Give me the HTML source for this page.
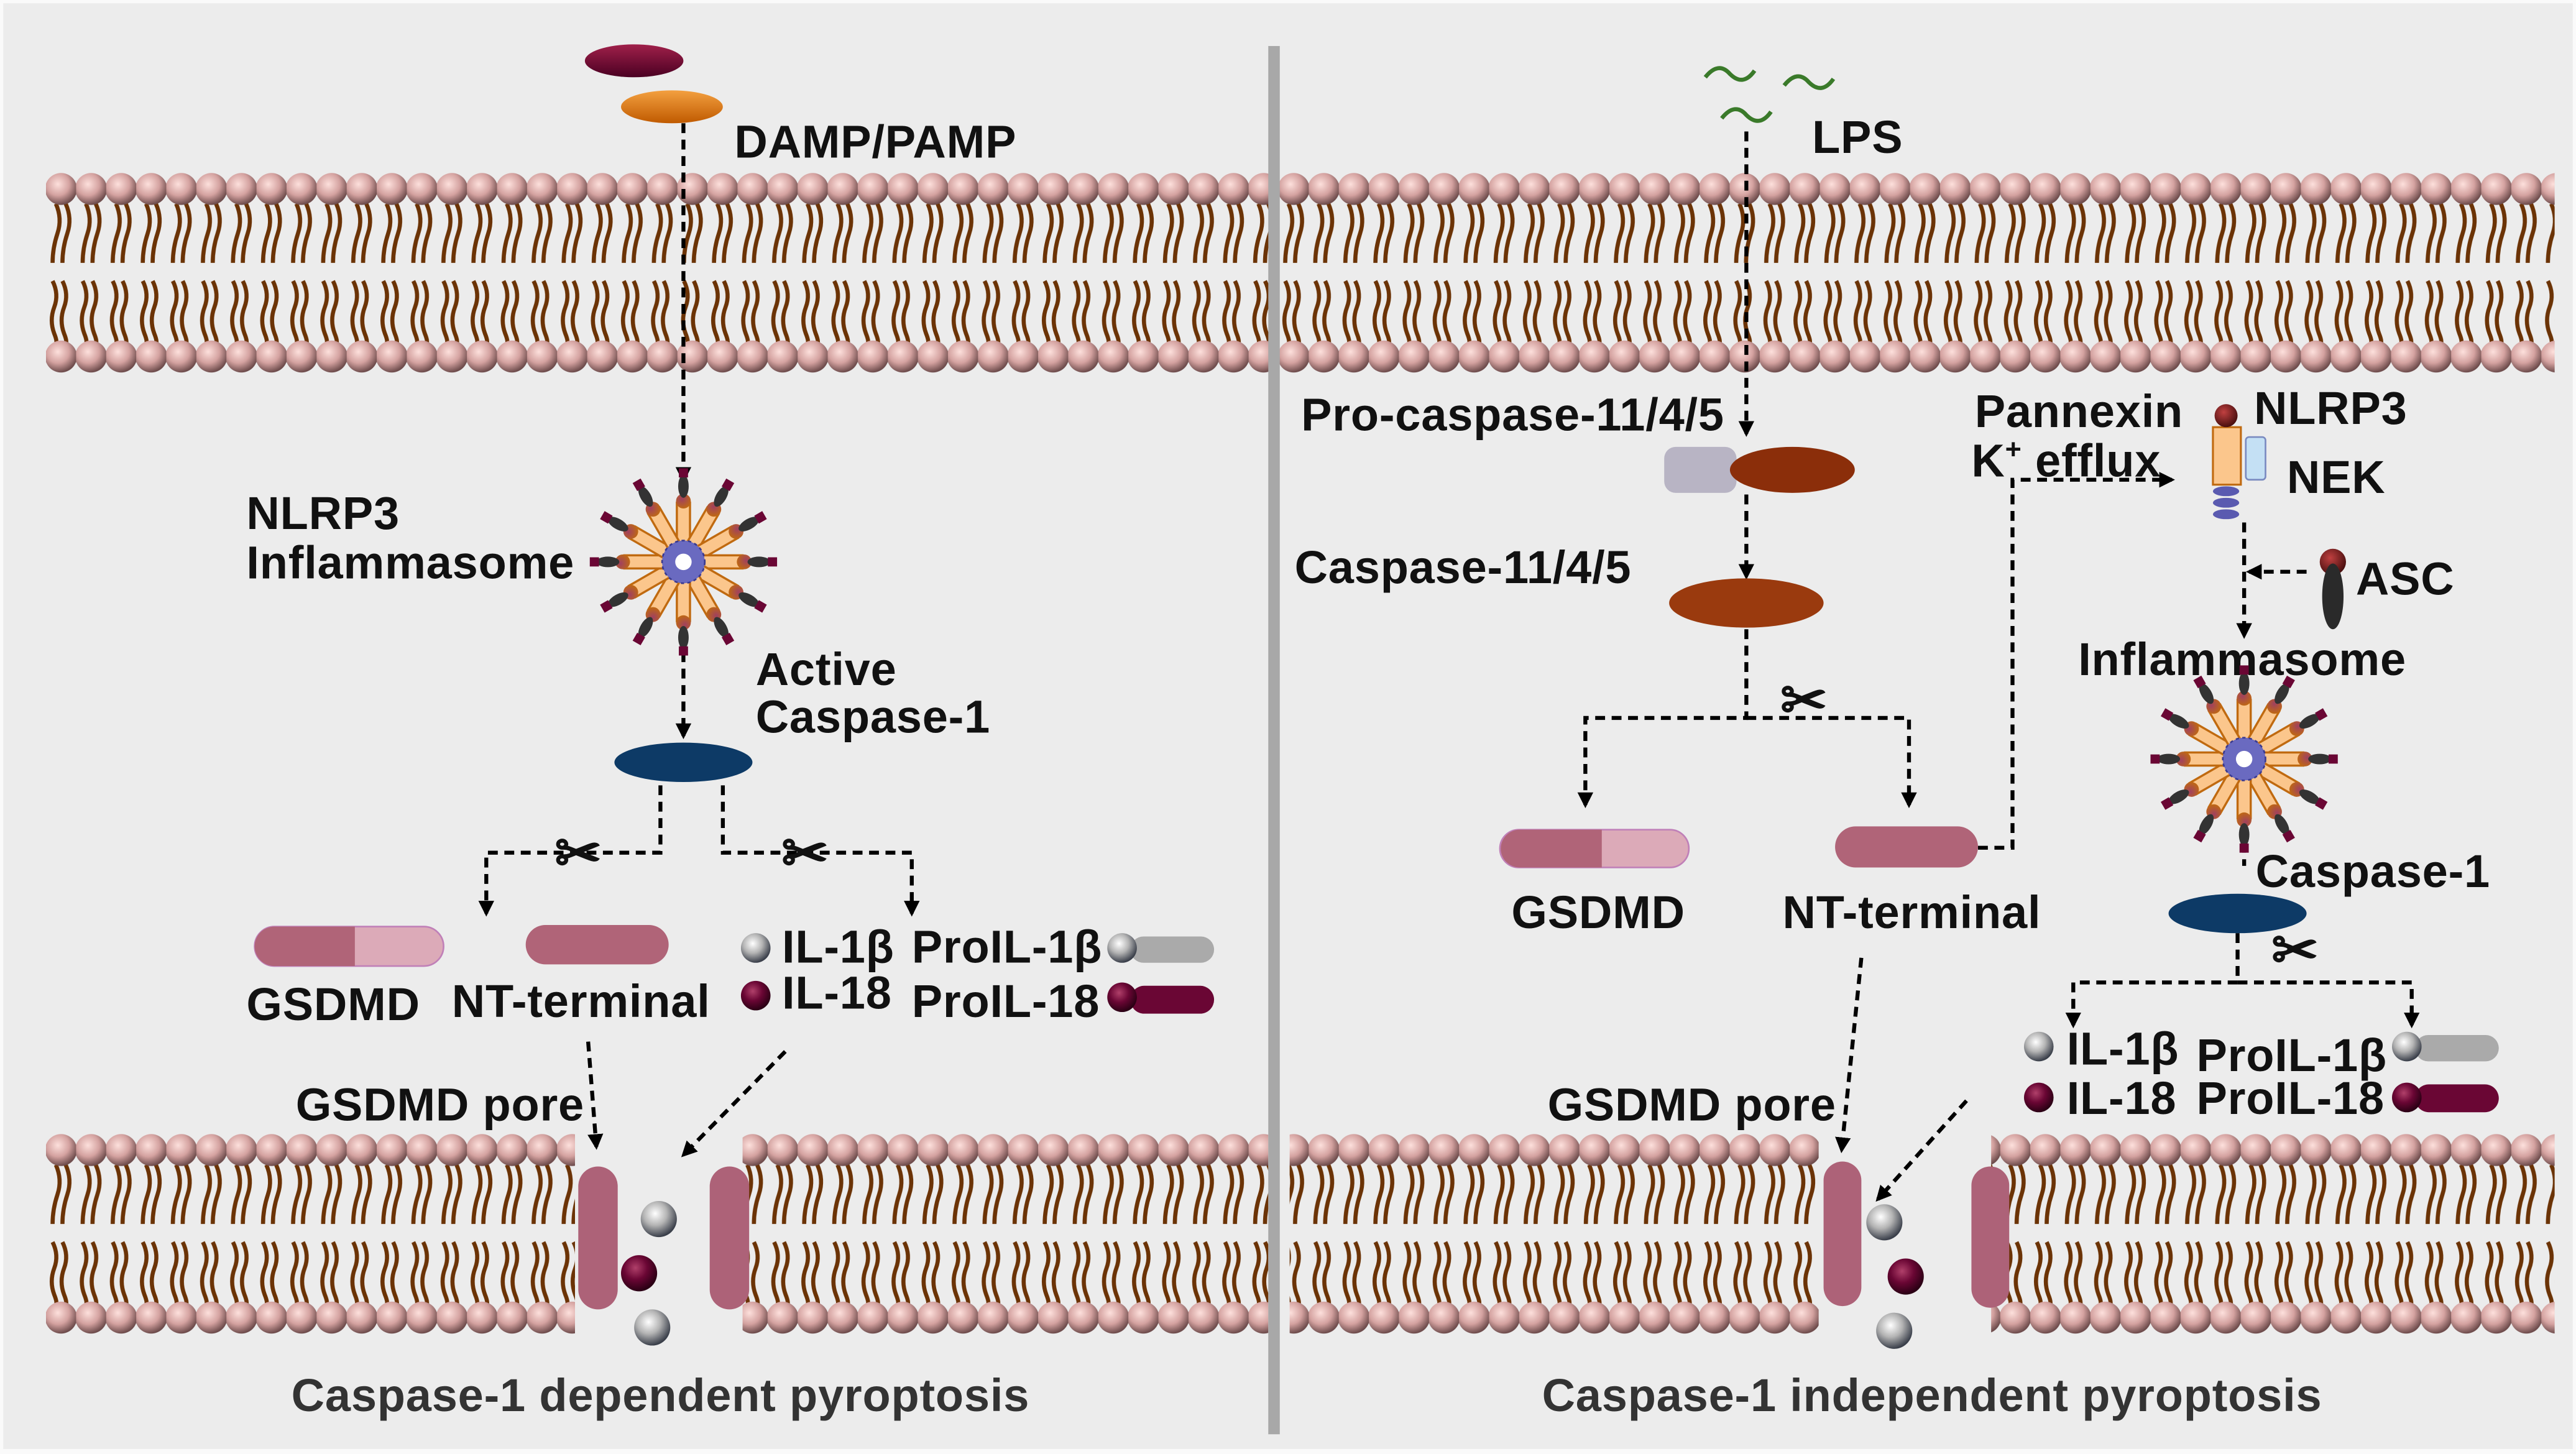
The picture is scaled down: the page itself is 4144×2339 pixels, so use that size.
<!DOCTYPE html>
<html><head><meta charset="utf-8"><style>
html,body{margin:0;padding:0;background:#fff}
svg{display:block}
text{font-family:"Liberation Sans",Arial,sans-serif;font-weight:bold;fill:#111;letter-spacing:0.3px}
</style></head><body>
<svg width="4144" height="2339" viewBox="0 0 1568 885" xmlns="http://www.w3.org/2000/svg">
<defs>
<radialGradient id="hg" cx="0.4" cy="0.35" r="0.65">
<stop offset="0" stop-color="#fde0dc"/><stop offset="0.55" stop-color="#d4a2a0"/><stop offset="1" stop-color="#6e4c4c"/></radialGradient>
<radialGradient id="gray" cx="0.4" cy="0.35" r="0.65">
<stop offset="0" stop-color="#fff"/><stop offset="0.5" stop-color="#b4b4b4"/><stop offset="1" stop-color="#3a3f4a"/></radialGradient>
<radialGradient id="mar" cx="0.4" cy="0.35" r="0.65">
<stop offset="0" stop-color="#b0406a"/><stop offset="0.5" stop-color="#6a0634"/><stop offset="1" stop-color="#2a0014"/></radialGradient>
<radialGradient id="brn" cx="0.4" cy="0.35" r="0.65">
<stop offset="0" stop-color="#c04040"/><stop offset="1" stop-color="#4a0f0f"/></radialGradient>
<radialGradient id="org" cx="0.4" cy="0.35" r="0.7">
<stop offset="0" stop-color="#a04060"/><stop offset="1" stop-color="#c06a10"/></radialGradient>
<linearGradient id="ovm" x1="0" y1="0" x2="0" y2="1"><stop offset="0" stop-color="#a0204a"/><stop offset="1" stop-color="#4a0022"/></linearGradient>
<linearGradient id="ovo" x1="0" y1="0" x2="0" y2="1"><stop offset="0" stop-color="#f3a040"/><stop offset="1" stop-color="#c05a00"/></linearGradient>
<pattern id="mem" patternUnits="userSpaceOnUse" x="28" y="0" width="18.3" height="122">
<g fill="none" stroke="#6b3306" stroke-width="2.5">
<path d="M6,19 q4,9 1,18 q-3,9 -3,18"/><path d="M12,19 q4,9 1,18 q-3,9 -3,18"/>
<path d="M4,66 q4,8 1,16 q-3,8 0,16 q2,5 1,6"/><path d="M10,66 q4,8 1,16 q-3,8 0,16 q2,5 1,6"/>
</g>
<circle cx="9.15" cy="10" r="9.7" fill="url(#hg)"/>
<circle cx="9.15" cy="112" r="9.7" fill="url(#hg)"/>
</pattern>
<marker id="ar" viewBox="0 0 10 10" refX="8" refY="5" markerWidth="4" markerHeight="4" orient="auto">
<path d="M0,0 L10,5 L0,10 z" fill="#000"/></marker>
<g id="spoke">
<rect x="-4" y="-36" width="8" height="24" fill="#fbc68c" stroke="#c06a10" stroke-width="1.3"/>
<circle cx="0" cy="-37" r="4.5" fill="url(#org)"/>
<ellipse cx="0" cy="-46" rx="3.2" ry="7" fill="#333"/>
<rect x="-2.8" y="-57" width="5.6" height="5.6" fill="#6a0634"/>
</g>
<g id="star">
<use href="#spoke" transform="rotate(0)"/><use href="#spoke" transform="rotate(30)"/>
<use href="#spoke" transform="rotate(60)"/><use href="#spoke" transform="rotate(90)"/>
<use href="#spoke" transform="rotate(120)"/><use href="#spoke" transform="rotate(150)"/>
<use href="#spoke" transform="rotate(180)"/><use href="#spoke" transform="rotate(210)"/>
<use href="#spoke" transform="rotate(240)"/><use href="#spoke" transform="rotate(270)"/>
<use href="#spoke" transform="rotate(300)"/><use href="#spoke" transform="rotate(330)"/>
<circle r="13" fill="#6a6ac0"/><circle r="13" fill="none" stroke="#3a3a90" stroke-width="1" stroke-dasharray="2 2"/>
<circle r="5" fill="#fff"/>
</g>
</defs>
<rect x="0" y="0" width="1568" height="885" fill="#fafafa"/>
<rect x="2" y="2" width="1564" height="880" fill="#ececec"/>

<g transform="translate(0,105)"><rect x="28" y="0" width="1527" height="122" fill="url(#mem)"/></g>
<g transform="translate(0,690)">
<rect x="28" y="0" width="322" height="122" fill="url(#mem)"/>
<rect x="452" y="0" width="320" height="122" fill="url(#mem)"/>
<rect x="785" y="0" width="322" height="122" fill="url(#mem)"/>
<rect x="1212" y="0" width="343" height="122" fill="url(#mem)"/>
</g>
<rect x="772" y="28" width="7" height="845" fill="#a8a8a8"/>

<g fill="none" stroke="#000" stroke-width="2.4" stroke-dasharray="6 4">
<path d="M416,75 V292" marker-end="url(#ar)"/>
<path d="M416,397 V448" marker-end="url(#ar)"/>
<path d="M402,478 V519 H296 V556" marker-end="url(#ar)"/>
<path d="M440,478 V519 H555 V556" marker-end="url(#ar)"/>
<path d="M358,634 L363,698" marker-end="url(#ar)"/>
<path d="M478,640 L416,703" marker-end="url(#ar)"/>
<path d="M1063,80 V264" marker-end="url(#ar)"/>
<path d="M1063,301 V351" marker-end="url(#ar)"/>
<path d="M1063,383 V437 H965 V490" marker-end="url(#ar)"/>
<path d="M1063,437 H1162 V490" marker-end="url(#ar)"/>
<path d="M1204,516 H1225 V292 H1322" marker-end="url(#ar)"/>
<path d="M1366,318 V387" marker-end="url(#ar)"/>
<path d="M1404,348 H1369" marker-end="url(#ar)"/>
<path d="M1366,503 V527"/>
<path d="M1362,568 V598 H1262 V624" marker-end="url(#ar)"/>
<path d="M1362,598 H1468 V624" marker-end="url(#ar)"/>
<path d="M1133,583 L1121,700" marker-end="url(#ar)"/>
<path d="M1197,670 L1143,730" marker-end="url(#ar)"/>
</g>

<ellipse cx="386" cy="37" rx="30" ry="10" fill="url(#ovm)"/>
<ellipse cx="409" cy="65" rx="31" ry="10" fill="url(#ovo)"/>
<text x="447" y="96" font-size="28">DAMP/PAMP</text>
<use href="#star" transform="translate(416,342)"/>
<text x="150" y="322" font-size="28">NLRP3</text>
<text x="150" y="352" font-size="28">Inflammasome</text>
<text x="460" y="417" font-size="28">Active</text>
<text x="460" y="446" font-size="28">Caspase-1</text>
<ellipse cx="416" cy="464" rx="42" ry="12" fill="#0d3a66"/>
<text x="352" y="531" font-size="34" text-anchor="middle" font-weight="normal">✂</text>
<text x="490" y="531" font-size="34" text-anchor="middle" font-weight="normal">✂</text>
<rect x="155" y="564" width="115" height="24" rx="12" fill="#dcaab8" stroke="#c080b8" stroke-width="1"/>
<path d="M167,564 H216 V588 H167 A12,12 0 0 1 167,564 z" fill="#b06478"/>
<rect x="320" y="563" width="87" height="24" rx="12" fill="#b06478"/>
<text x="150" y="621" font-size="28">GSDMD</text>
<text x="275" y="619" font-size="28">NT-terminal</text>
<circle cx="460" cy="577" r="9" fill="url(#gray)"/>
<circle cx="460" cy="606" r="9" fill="url(#mar)"/>
<text x="476" y="586" font-size="28">IL-1β</text>
<text x="476" y="614" font-size="28">IL-18</text>
<text x="555" y="586" font-size="28">ProIL-1β</text>
<text x="555" y="619" font-size="28">ProIL-18</text>
<rect x="688" y="570" width="51" height="16" rx="8" fill="#aaa"/>
<circle cx="683" cy="577" r="9" fill="url(#gray)"/>
<rect x="688" y="600" width="51" height="17" rx="8.5" fill="#6a0634"/>
<circle cx="683" cy="607" r="9" fill="url(#mar)"/>
<text x="180" y="682" font-size="28">GSDMD pore</text>
<rect x="352" y="710" width="24" height="87" rx="12" fill="#ad6278"/>
<rect x="432" y="710" width="24" height="87" rx="12" fill="#ad6278"/>
<circle cx="401" cy="742" r="11" fill="url(#gray)"/>
<circle cx="389" cy="775" r="11" fill="url(#mar)"/>
<circle cx="397" cy="808" r="11" fill="url(#gray)"/>
<text x="402" y="859" font-size="28" text-anchor="middle" style="fill:#333">Caspase-1 dependent pyroptosis</text>

<g fill="none" stroke="#3a7a2a" stroke-width="2.5">
<path d="M1038,47 q8,-10 15,-2 q8,8 15,-2"/>
<path d="M1086,52 q8,-10 15,-2 q8,8 15,-2"/>
<path d="M1048,72 q8,-10 15,-2 q8,8 15,-2"/>
</g>
<text x="1103" y="93" font-size="28">LPS</text>
<text x="792" y="262" font-size="28">Pro-caspase-11/4/5</text>
<rect x="1013" y="272" width="44" height="28" rx="7" fill="#b8b4c4"/>
<ellipse cx="1091" cy="286" rx="38" ry="14" fill="#8b2e0a"/>
<text x="788" y="355" font-size="28">Caspase-11/4/5</text>
<ellipse cx="1063" cy="367" rx="47" ry="15" fill="#9a3a0e"/>
<text x="1098" y="438" font-size="34" text-anchor="middle" font-weight="normal">✂</text>
<rect x="913" y="505" width="115" height="23" rx="11.5" fill="#dcaab8" stroke="#c080b8" stroke-width="1"/>
<path d="M925,505 H975 V528 H925 A11.5,11.5 0 0 1 925,505 z" fill="#b06478"/>
<rect x="1117" y="503" width="87" height="25" rx="12.5" fill="#b06478"/>
<text x="920" y="565" font-size="28">GSDMD</text>
<text x="1085" y="565" font-size="28">NT-terminal</text>
<text x="1202" y="260" font-size="28">Pannexin</text>
<text x="1200" y="290" font-size="28">K<tspan font-size="17" dy="-11">+</tspan><tspan dy="11"> efflux</tspan></text>
<rect x="1347" y="260" width="17" height="35" fill="#fbc68c" stroke="#c06a10" stroke-width="1.2"/>
<circle cx="1355" cy="253" r="7" fill="url(#brn)"/>
<rect x="1367" y="266" width="12" height="26" rx="2" fill="#c4e0f4" stroke="#7a8ac0" stroke-width="1"/>
<ellipse cx="1355" cy="299" rx="8" ry="3" fill="#5a5ab0"/>
<ellipse cx="1355" cy="306" rx="8" ry="3" fill="#5a5ab0"/>
<ellipse cx="1355" cy="313" rx="8" ry="3" fill="#5a5ab0"/>
<text x="1372" y="258" font-size="28">NLRP3</text>
<text x="1392" y="300" font-size="28">NEK</text>
<circle cx="1420" cy="342" r="8" fill="url(#brn)"/>
<ellipse cx="1420" cy="363" rx="6.5" ry="20" fill="#2a2a2a"/>
<text x="1434" y="362" font-size="28">ASC</text>
<text x="1265" y="411" font-size="28">Inflammasome</text>
<use href="#star" transform="translate(1366,462)"/>
<text x="1373" y="540" font-size="28">Caspase-1</text>
<ellipse cx="1362" cy="556" rx="42" ry="12" fill="#0d3a66"/>
<text x="1397" y="590" font-size="34" text-anchor="middle" font-weight="normal">✂</text>
<circle cx="1241" cy="637" r="9" fill="url(#gray)"/>
<circle cx="1241" cy="668" r="9" fill="url(#mar)"/>
<text x="1258" y="648" font-size="28">IL-1β</text>
<text x="1258" y="678" font-size="28">IL-18</text>
<text x="1337" y="652" font-size="28">ProIL-1β</text>
<text x="1337" y="678" font-size="28">ProIL-18</text>
<rect x="1470" y="630" width="51" height="16" rx="8" fill="#aaa"/>
<circle cx="1465" cy="637" r="9" fill="url(#gray)"/>
<rect x="1470" y="660" width="51" height="17" rx="8.5" fill="#6a0634"/>
<circle cx="1465" cy="668" r="9" fill="url(#mar)"/>
<text x="942" y="682" font-size="28">GSDMD pore</text>
<rect x="1110" y="707" width="23" height="88" rx="11.5" fill="#ad6278"/>
<rect x="1200" y="710" width="23" height="86" rx="11.5" fill="#ad6278"/>
<circle cx="1147" cy="744" r="11" fill="url(#gray)"/>
<circle cx="1160" cy="777" r="11" fill="url(#mar)"/>
<circle cx="1153" cy="810" r="11" fill="url(#gray)"/>
<text x="1176" y="859" font-size="28" text-anchor="middle" style="fill:#333">Caspase-1 independent pyroptosis</text>
</svg>
</body></html>
